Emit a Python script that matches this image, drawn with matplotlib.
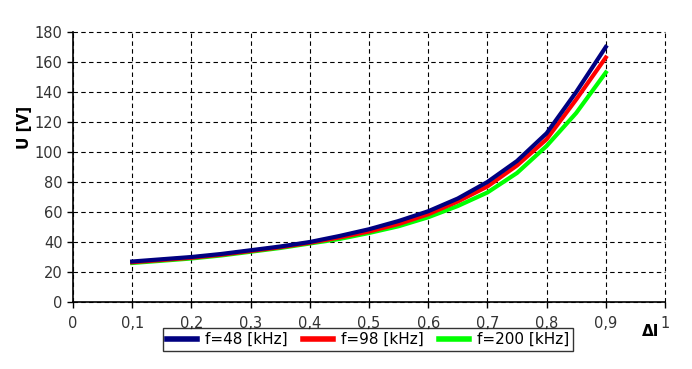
import matplotlib.pyplot as plt
import numpy as np

# Data
dI = [0.1, 0.15, 0.2, 0.25, 0.3, 0.35, 0.4, 0.45, 0.5, 0.55,
      0.6, 0.65, 0.7, 0.75, 0.8, 0.85, 0.9]

u_48 = [27, 28.5, 30, 32, 34.5, 37, 40, 44, 48.5, 54,
        60.5, 69, 80, 94, 112.5, 140, 170]
u_98 = [26.5, 28, 29.5, 31.5, 34, 36.5, 39.5, 43, 47, 52,
        58.5, 67, 77, 91, 108.5, 135, 163]
u_200 = [26, 27.5, 29, 31, 33.5, 36, 39, 42, 46, 50.5,
         56.5, 64, 73, 86, 104, 126, 153]

x_ticks = [0, 0.1, 0.2, 0.3, 0.4, 0.5, 0.6, 0.7, 0.8, 0.9, 1]
x_tick_labels = ['0', '0,1', '0,2', '0,3', '0,4', '0,5', '0,6', '0,7', '0,8', '0,9', '1']
y_ticks = [0, 20, 40, 60, 80, 100, 120, 140, 160, 180]

plt.rcParams['font.family'] = 'DejaVu Sans'

fig = plt.figure(figsize=(6.92, 3.69), dpi=100)
ax = fig.add_axes([73 / 692, 1 - 302 / 369, 592 / 692, 270 / 369])

l1, = ax.plot(dI, u_48, color='#000080', lw=3.0, zorder=5, solid_joinstyle='round')
l2, = ax.plot(dI, u_98, color='#ff0000', lw=3.0, zorder=4, solid_joinstyle='round')
l3, = ax.plot(dI, u_200, color='#00ff00', lw=3.0, zorder=3, solid_joinstyle='round')

ax.set_xlim(0, 1)
ax.set_ylim(0, 180)
ax.set_xticks(x_ticks)
ax.set_xticklabels(x_tick_labels)
ax.set_yticks(y_ticks)
ax.tick_params(labelsize=10.5, labelcolor='#333333', length=4, width=1)
ax.tick_params(axis='x', pad=6)

ax.grid(True, color='black', linestyle=(0, (4, 3)), linewidth=0.8)
for g in ax.get_xgridlines() + ax.get_ygridlines():
    g.set_clip_on(False)
ax.spines['top'].set_visible(False)
ax.spines['right'].set_visible(False)
ax.spines['left'].set_linewidth(1.2)
ax.spines['bottom'].set_linewidth(1.2)

fig.text(25 / 692, 1 - 127 / 369, 'U [V]', rotation=90, fontsize=11,
         fontweight='bold', ha='center', va='center')
fig.text(659 / 692, 1 - 332 / 369, 'ΔI', fontsize=11, fontweight='bold',
         ha='right', va='center')

leg = fig.legend([l1, l2, l3], ['f=48 [kHz]', 'f=98 [kHz]', 'f=200 [kHz]'],
                 loc='center', bbox_to_anchor=(368 / 692, 1 - 339.5 / 369),
                 ncol=3, fontsize=11, frameon=True, fancybox=False,
                 handlelength=2.0, handletextpad=0.5, columnspacing=1.0,
                 borderpad=0.25, borderaxespad=0)
leg.get_frame().set_edgecolor('black')
leg.get_frame().set_linewidth(1.0)
for h in leg.get_lines():
    h.set_linewidth(4)

fig.savefig('out.png', dpi=100)
